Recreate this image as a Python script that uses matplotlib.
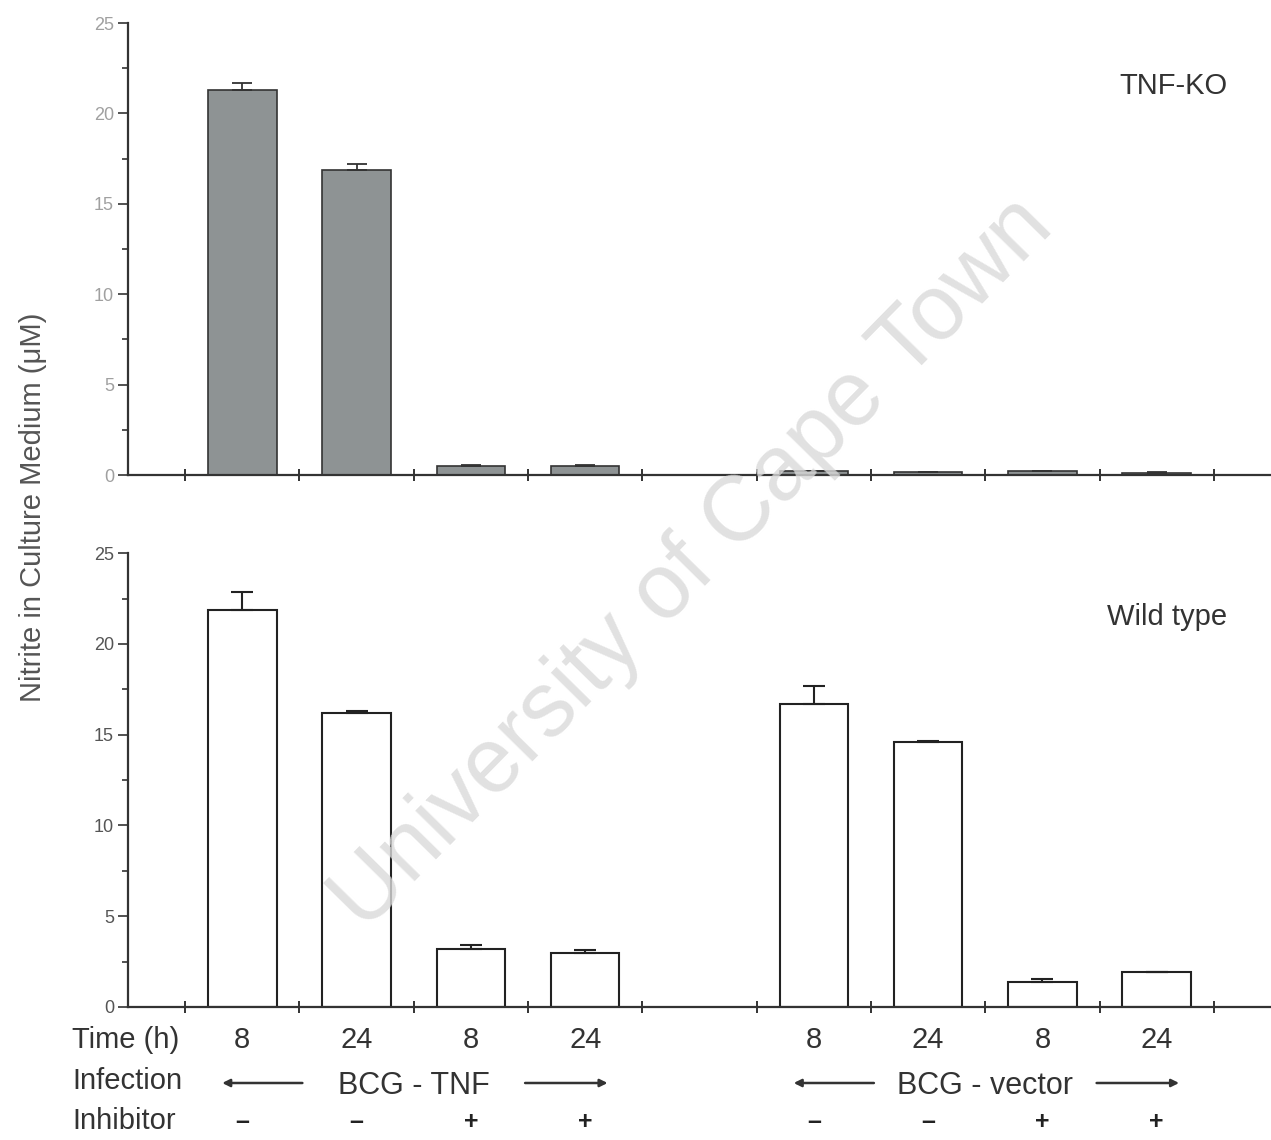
import numpy as np
import matplotlib.pyplot as plt
from matplotlib.transforms import blended_transform_factory

plt.rcParams['font.family'] = ['Liberation Sans', 'DejaVu Sans']

# bar slots (slot 4 is the empty gap between the two infections)
pos = [0, 1, 2, 3, 5, 6, 7, 8]
time_h = ['8', '24', '8', '24', '8', '24', '8', '24']
inhib = ['\u2013', '\u2013', '+', '+', '\u2013', '\u2013', '+', '+']

ko_vals = [21.3, 16.85, 0.5, 0.5, 0.2, 0.15, 0.2, 0.12]
ko_err = [0.4, 0.35, 0.05, 0.05, 0.03, 0.03, 0.03, 0.03]
wt_vals = [21.9, 16.2, 3.2, 3.0, 16.7, 14.6, 1.4, 1.9]
wt_err = [0.95, 0.1, 0.2, 0.15, 1.0, 0.05, 0.15, 0.02]

fig = plt.figure(figsize=(12.71, 11.4), dpi=100)
ax1 = fig.add_axes([0.1007, 0.5833, 0.8993, 0.3965])
ax2 = fig.add_axes([0.1007, 0.1167, 0.8993, 0.398])

def style(ax, lblcol):
	ax.set_xlim(-1, 9)
	ax.set_ylim(0, 25)
	for s in ['top', 'right']:
		ax.spines[s].set_visible(False)
	for s in ['left', 'bottom']:
		ax.spines[s].set_linewidth(1.6)
		ax.spines[s].set_color('#333333')
	ax.set_yticks([0, 5, 10, 15, 20, 25])
	ax.set_yticks(np.arange(2.5, 25, 5), minor=True)
	ax.tick_params(axis='y', which='major', length=7, width=1.2, color='#333333',
				   labelsize=13, labelcolor=lblcol, pad=3)
	ax.tick_params(axis='y', which='minor', length=4, width=1.2, color='#333333')
	ax.set_xticks(np.arange(-0.5, 9, 1))
	ax.set_xticklabels([])
	ax.tick_params(axis='x', direction='inout', length=9, width=1.4, color='#333333')

style(ax1, '#a0a0a0')
style(ax2, '#555555')

ax1.bar(pos, ko_vals, width=0.6, color='#8e9394', edgecolor='#333333', linewidth=1.2, zorder=2)
ax1.errorbar(pos, ko_vals, yerr=[np.zeros(len(ko_err)), ko_err], fmt='none',
			 ecolor='#333333', elinewidth=1.3, capsize=7, capthick=1.3, zorder=3)
ax2.bar(pos, wt_vals, width=0.6, color='white', edgecolor='#222222', linewidth=1.5, zorder=2)
ax2.errorbar(pos, wt_vals, yerr=[np.zeros(len(wt_err)), wt_err], fmt='none',
			 ecolor='#222222', elinewidth=1.5, capsize=8, capthick=1.5, zorder=3)

ax1.text(0.962, 0.86, 'TNF-KO', transform=ax1.transAxes, fontsize=21, color='#333333',
		 ha='right', va='center')
ax2.text(0.962, 0.86, 'Wild type', transform=ax2.transAxes, fontsize=21, color='#333333',
		 ha='right', va='center')

fig.text(0.026, 0.555, 'Nitrite in Culture Medium (\u03bcM)', rotation=90, fontsize=21,
		 color='#555555', ha='center', va='center')

tr = blended_transform_factory(ax2.transData, fig.transFigure)
fig.text(0.057, 0.088, 'Time (h)', fontsize=21, color='#333333', va='center')
fig.text(0.057, 0.052, 'Infection', fontsize=21, color='#333333', va='center')
fig.text(0.057, 0.017, 'Inhibitor', fontsize=21, color='#333333', va='center')
for p, t, s in zip(pos, time_h, inhib):
	ax2.text(p, 0.088, t, transform=tr, fontsize=21, color='#333333', ha='center', va='center')
	ax2.text(p, 0.016, s, transform=tr, fontsize=18, color='#222222', ha='center', va='center',
			 fontweight='bold')

groups = ['BCG - TNF', 'BCG - vector']
centers = [1.5, 6.5]
for g, c in zip(groups, centers):
	ax2.text(c, 0.047, g, transform=tr, fontsize=22, color='#333333', ha='center', va='center')
	ax2.annotate('', xy=(c - 1.7, 0.05), xytext=(c - 0.95, 0.05), xycoords=tr, textcoords=tr,
				 arrowprops=dict(arrowstyle='-|>', color='#333333', lw=1.8, mutation_scale=11),
				 annotation_clip=False)
	ax2.annotate('', xy=(c + 1.72, 0.05), xytext=(c + 0.95, 0.05), xycoords=tr, textcoords=tr,
				 arrowprops=dict(arrowstyle='-|>', color='#333333', lw=1.8, mutation_scale=11),
				 annotation_clip=False)

# watermark
fig.text(0.545, 0.505, 'University of Cape Town', rotation=45.5, fontsize=66,
		 color='#dadada', alpha=0.8, ha='center', va='center', rotation_mode='anchor')

plt.savefig('out.png', dpi=100)
